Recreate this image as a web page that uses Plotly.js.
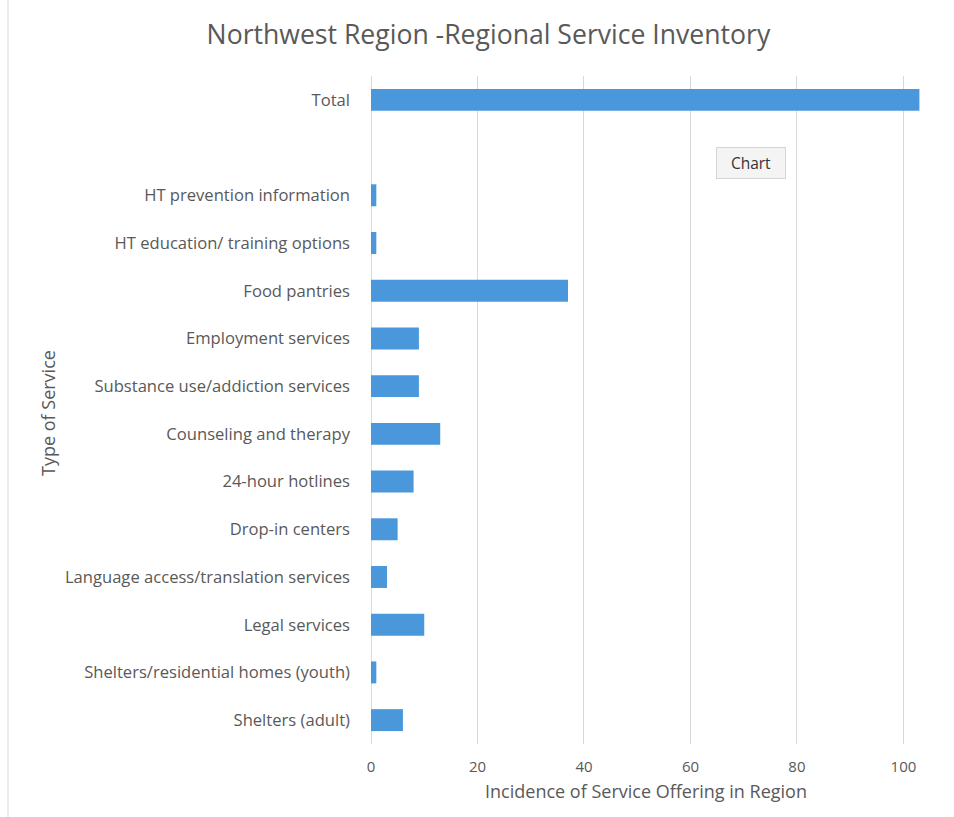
<!DOCTYPE html>
<html>
<head>
<meta charset="utf-8">
<script src="https://cdn.plot.ly/plotly-3.0.1.min.js"></script>
<style>html,body{margin:0;padding:0;background:#fff;}#chart{width:954px;height:817px;}</style>
</head>
<body>
<div id="chart"></div>
<script>
// Categories listed bottom to top
const categories = [
  "Shelters (adult)",
  "Shelters/residential homes (youth)",
  "Legal services",
  "Language access/translation services",
  "Drop-in centers",
  "24-hour hotlines",
  "Counseling and therapy",
  "Substance use/addiction services",
  "Employment services",
  "Food pantries",
  "HT education/ training options",
  "HT prevention information",
  " ",
  "Total"
];
const counts = [6, 1, 10, 3, 5, 8, 13, 9, 9, 37, 1, 1, null, 103];
const xTicks = [0, 20, 40, 60, 80, 100];

const PL = 371, PR = 921, PT = 76, PB = 744;
const W = 954, H = 817;
const pw = PR - PL, ph = PB - PT;
const px = v => (v - PL) / pw;
const py = v => (PB - v) / ph;

const font = "'Open Sans', sans-serif";
const trace = {
  type: "bar",
  orientation: "h",
  x: counts,
  y: categories,
  marker: {color: "#4a97dc"},
  hoverinfo: "x+y"
};

const layout = {
  width: W, height: H,
  margin: {l: PL, r: W - PR, t: PT, b: H - PB},
  paper_bgcolor: "#fff", plot_bgcolor: "#fff",
  showlegend: false,
  bargap: 0.54,
  font: {family: font, color: "#595959", size: 15},
  title: {
    text: "Northwest Region -Regional Service Inventory",
    font: {family: font, size: 26.6, color: "#595959"},
    x: 0.512, xanchor: "center", y: 1 - 35 / H, yanchor: "middle"
  },
  xaxis: {
    range: [0, 103.3],
    tickvals: xTicks,
    ticktext: xTicks.map(String),
    showgrid: true, gridcolor: "#d9d9d9", gridwidth: 1,
    zeroline: true, zerolinecolor: "#d9d9d9", zerolinewidth: 1,
    showline: false, ticks: "",
    tickfont: {size: 15, color: "#595959"},
    ticklabelstandoff: 12,
    title: {text: "Incidence of Service Offering in Region", font: {size: 18, color: "#595959"}, standoff: 10},
    fixedrange: true
  },
  yaxis: {
    type: "category",
    categoryorder: "array",
    categoryarray: categories,
    showgrid: false, zeroline: false, showline: false, ticks: "",
    tickfont: {size: 16.6, color: "#595959"},
    ticklabelstandoff: 20,
    automargin: false,
    fixedrange: true
  },
  annotations: [
    {
      text: "Type of Service", textangle: -90,
      xref: "paper", yref: "paper",
      x: px(48), y: py(413), xanchor: "center", yanchor: "middle",
      showarrow: false, font: {size: 18, color: "#595959", family: font}
    },
    {
      text: "Chart",
      xref: "paper", yref: "paper",
      x: px(751), y: py(163), xanchor: "center", yanchor: "middle",
      width: 56, height: 18,
      showarrow: false, font: {size: 15.5, color: "#333", family: font},
      bgcolor: "#f4f4f4", bordercolor: "#d6d6d6", borderwidth: 1, borderpad: 6
    }
  ],
  shapes: [
    {type: "line", xref: "paper", yref: "paper", x0: px(8), x1: px(8), y0: py(0), y1: py(817),
     line: {color: "#d9d9d9", width: 1}}
  ]
};

Plotly.newPlot("chart", [trace], layout, {displayModeBar: false, staticPlot: true});
</script>
</body>
</html>
